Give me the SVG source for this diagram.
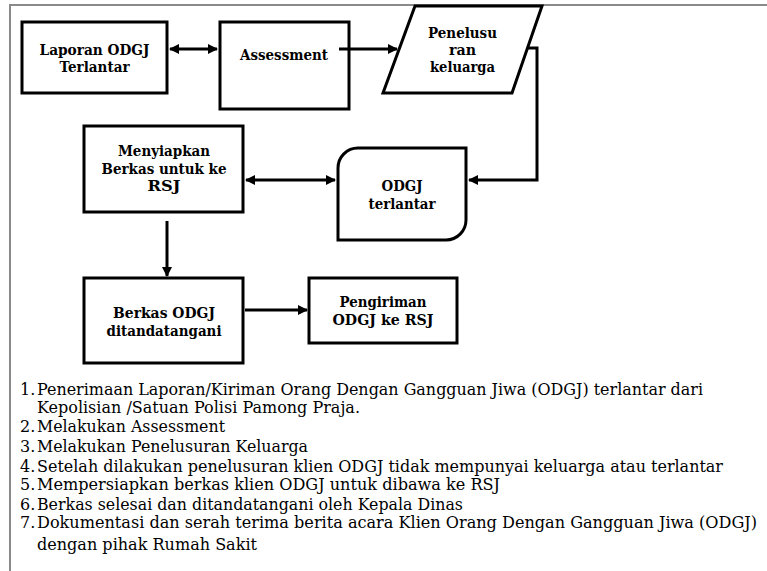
<svg xmlns="http://www.w3.org/2000/svg" width="767" height="571" viewBox="0 0 767 571">
<defs>
<style>
.frame{stroke:#8a8a8a;stroke-width:2;fill:none}
.box{fill:#fff;stroke:#000;stroke-width:3}
.lbl{font-family:"DejaVu Serif","Liberation Serif",serif;font-weight:bold;font-size:14px;fill:#000;text-anchor:middle}
.conn{stroke:#000;stroke-width:3;fill:none}
.list{font-family:"DejaVu Serif","Liberation Serif",serif;font-size:16px;fill:#000}
</style>
<marker id="ah" viewBox="0 0 10 10" refX="9" refY="5" markerWidth="10" markerHeight="10" markerUnits="userSpaceOnUse" orient="auto-start-reverse">
<path d="M0,0 L10,5 L0,10 z" fill="#000"/>
</marker>
</defs>
<rect width="767" height="571" fill="#fff"/>
<path class="frame" d="M767,5 H10 V571"/>

<g id="n1">
<rect class="box" x="22" y="22" width="145" height="71"/>
<text class="lbl" x="94.5" y="55" textLength="110" lengthAdjust="spacingAndGlyphs">Laporan ODGJ</text>
<text class="lbl" x="94.5" y="72" textLength="70" lengthAdjust="spacingAndGlyphs">Terlantar</text>
</g>
<g id="n2">
<rect class="box" x="220" y="22" width="129" height="87"/>
<text class="lbl" x="284" y="60" textLength="88" lengthAdjust="spacingAndGlyphs">Assessment</text>
</g>
<g id="n3">
<polygon class="box" points="415,6 542,6 512,93 383,93"/>
<text class="lbl" x="462.5" y="38" textLength="69" lengthAdjust="spacingAndGlyphs">Penelusu</text>
<text class="lbl" x="462.5" y="55" textLength="27" lengthAdjust="spacingAndGlyphs">ran</text>
<text class="lbl" x="462.5" y="72" textLength="65" lengthAdjust="spacingAndGlyphs">keluarga</text>
</g>
<g id="n4">
<rect class="box" x="84" y="126" width="159" height="86"/>
<text class="lbl" x="164" y="156" textLength="92" lengthAdjust="spacingAndGlyphs">Menyiapkan</text>
<text class="lbl" x="164" y="174" textLength="125" lengthAdjust="spacingAndGlyphs">Berkas untuk ke</text>
<text class="lbl" x="164" y="191" textLength="33" lengthAdjust="spacingAndGlyphs">RSJ</text>
</g>
<g id="n5">
<path class="box" d="M358,148 H466 V220 A20,20 0 0 1 446,240 H338 V168 A20,20 0 0 1 358,148 Z"/>
<text class="lbl" x="402" y="191" textLength="41" lengthAdjust="spacingAndGlyphs">ODGJ</text>
<text class="lbl" x="402" y="209" textLength="67" lengthAdjust="spacingAndGlyphs">terlantar</text>
</g>
<g id="n6">
<rect class="box" x="84" y="278" width="159" height="85"/>
<text class="lbl" x="164" y="318" textLength="102" lengthAdjust="spacingAndGlyphs">Berkas ODGJ</text>
<text class="lbl" x="164" y="336" textLength="115" lengthAdjust="spacingAndGlyphs">ditandatangani</text>
</g>
<g id="n7">
<rect class="box" x="309" y="278" width="148" height="65"/>
<text class="lbl" x="383" y="307" textLength="87" lengthAdjust="spacingAndGlyphs">Pengiriman</text>
<text class="lbl" x="383" y="325" textLength="101" lengthAdjust="spacingAndGlyphs">ODGJ ke RSJ</text>
</g>

<g id="connectors">
<path class="conn" d="M170,49 H217" marker-start="url(#ah)" marker-end="url(#ah)"/>
<path class="conn" d="M339,49 H397" marker-end="url(#ah)"/>
<path class="conn" d="M527,48 H537 V180 H469" marker-end="url(#ah)"/>
<path class="conn" d="M246,180 H335" marker-start="url(#ah)" marker-end="url(#ah)"/>
<path class="conn" d="M167,221 V276" marker-end="url(#ah)"/>
<path class="conn" d="M245,310 H307" marker-end="url(#ah)"/>
</g>

<g id="notes">
<text class="list" x="20" y="395">1.</text>
<text class="list" x="37" y="395" textLength="666" lengthAdjust="spacingAndGlyphs">Penerimaan Laporan/Kiriman Orang Dengan Gangguan Jiwa (ODGJ) terlantar dari</text>
<text class="list" x="37" y="413" textLength="323" lengthAdjust="spacingAndGlyphs">Kepolisian /Satuan Polisi Pamong Praja.</text>
<text class="list" x="20" y="432">2.</text>
<text class="list" x="37" y="432" textLength="188" lengthAdjust="spacingAndGlyphs">Melakukan Assessment</text>
<text class="list" x="20" y="452">3.</text>
<text class="list" x="37" y="452" textLength="271" lengthAdjust="spacingAndGlyphs">Melakukan Penelusuran Keluarga</text>
<text class="list" x="20" y="472">4.</text>
<text class="list" x="37" y="472" textLength="686" lengthAdjust="spacingAndGlyphs">Setelah dilakukan penelusuran klien ODGJ tidak mempunyai keluarga atau terlantar</text>
<text class="list" x="20" y="490">5.</text>
<text class="list" x="37" y="490" textLength="463" lengthAdjust="spacingAndGlyphs">Mempersiapkan berkas klien ODGJ untuk dibawa ke RSJ</text>
<text class="list" x="20" y="510">6.</text>
<text class="list" x="37" y="510" textLength="426" lengthAdjust="spacingAndGlyphs">Berkas selesai dan ditandatangani oleh Kepala Dinas</text>
<text class="list" x="20" y="528">7.</text>
<text class="list" x="37" y="528" textLength="720" lengthAdjust="spacingAndGlyphs">Dokumentasi dan serah terima berita acara Klien Orang Dengan Gangguan Jiwa (ODGJ)</text>
<text class="list" x="37" y="550" textLength="220" lengthAdjust="spacingAndGlyphs">dengan pihak Rumah Sakit</text>
</g>
</svg>
